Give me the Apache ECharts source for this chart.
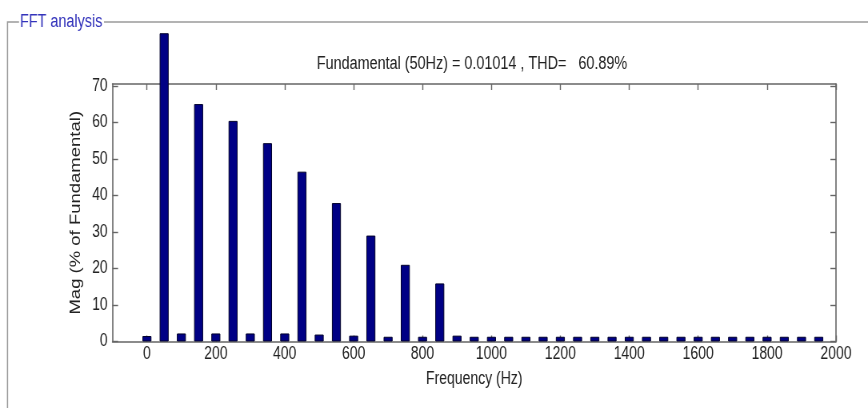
<!DOCTYPE html>
<html>
<head>
<meta charset="utf-8">
<title>FFT analysis</title>
<script src="https://cdn.jsdelivr.net/npm/echarts@6/dist/echarts.min.js"></script>
<style>
  html, body { margin: 0; padding: 0; background: #ffffff; overflow: hidden; }
  #stage { width: 868px; height: 408px; overflow: hidden; }
  /* the figure is laid out on a wider canvas and squeezed horizontally,
     which gives the narrow look of its lettering */
  #chart { width: 1085px; height: 408px; transform: scaleX(0.8); transform-origin: 0 0; }
</style>
</head>
<body>
<div id="stage"><div id="chart"></div></div>
<script>
// Harmonic spectrum, magnitudes in % of the 50 Hz fundamental
const frequencies = [
  0, 50, 100, 150, 200, 250, 300, 350, 400, 450,
  500, 550, 600, 650, 700, 750, 800, 850, 900, 950,
  1000, 1050, 1100, 1150, 1200, 1250, 1300, 1350, 1400, 1450,
  1500, 1550, 1600, 1650, 1700, 1750, 1800, 1850, 1900, 1950
];
const magnitudes = [
  1.5, 84.4, 2.2, 65.0, 2.2, 60.4, 2.2, 54.3, 2.2, 46.5,
  1.9, 37.9, 1.6, 29.0, 1.3, 21.0, 1.3, 15.9, 1.6, 1.3,
  1.3, 1.3, 1.3, 1.3, 1.3, 1.3, 1.3, 1.3, 1.3, 1.3,
  1.3, 1.3, 1.3, 1.3, 1.3, 1.3, 1.3, 1.3, 1.3, 1.3
];
const xTicks = [0, 200, 400, 600, 800, 1000, 1200, 1400, 1600, 1800, 2000];
const yTicks = [0, 10, 20, 30, 40, 50, 60, 70];

const panelTitle = 'FFT analysis';
const plotTitle = 'Fundamental (50Hz) = 0.01014 , THD=   60.89%';
const xName = 'Frequency (Hz)';
const yName = 'Mag (% of Fundamental)';

const FONT = '"Liberation Sans", Arial, Helvetica, sans-serif';
const AXIS_COLOR = '#666666';
const TEXT_COLOR = '#222222';
const W = 1085; // layout width before the horizontal squeeze

const chart = echarts.init(document.getElementById('chart'), null, { renderer: 'canvas' });

const plainNumber = v => String(v);

function boxAxis(extra) {
  return Object.assign({
    axisLine: { show: true, onZero: false, lineStyle: { color: AXIS_COLOR, width: 1.6 } },
    splitLine: { show: false }
  }, extra);
}

chart.setOption({
  animation: false,
  backgroundColor: '#ffffff',
  textStyle: { fontFamily: FONT },
  grid: { left: 140.6, right: 40, top: 84, bottom: 66.5, containLabel: false },
  xAxis: [
    boxAxis({
      type: 'value', position: 'bottom', min: -100, max: 2000,
      name: xName, nameLocation: 'middle', nameGap: 29,
      nameTextStyle: { fontFamily: FONT, fontSize: 17.5, color: TEXT_COLOR },
      axisTick: { show: true, inside: true, length: 6, customValues: xTicks,
                  lineStyle: { color: AXIS_COLOR, width: 1.4 } },
      axisLabel: { show: true, customValues: xTicks, margin: 4, formatter: plainNumber,
                   fontFamily: FONT, fontSize: 17.5, color: TEXT_COLOR }
    }),
    boxAxis({
      type: 'value', position: 'top', min: -100, max: 2000,
      axisTick: { show: true, inside: true, length: 6, customValues: xTicks,
                  lineStyle: { color: AXIS_COLOR, width: 1.4 } },
      axisLabel: { show: false }
    })
  ],
  yAxis: [
    boxAxis({
      type: 'value', position: 'left', min: 0, max: 70.5,
      name: yName, nameLocation: 'middle', nameGap: 32,
      nameTextStyle: { fontFamily: FONT, fontSize: 18.5, color: TEXT_COLOR },
      axisTick: { show: true, inside: true, length: 7, customValues: yTicks,
                  lineStyle: { color: AXIS_COLOR, width: 1.4 } },
      axisLabel: { show: true, customValues: yTicks, margin: 6, formatter: plainNumber,
                   fontFamily: FONT, fontSize: 17.5, color: TEXT_COLOR }
    }),
    boxAxis({
      type: 'value', position: 'right', min: 0, max: 70.5,
      axisTick: { show: true, inside: true, length: 7, customValues: yTicks,
                  lineStyle: { color: AXIS_COLOR, width: 1.4 } },
      axisLabel: { show: false }
    })
  ],
  series: [{
    type: 'bar',
    xAxisIndex: 0,
    yAxisIndex: 0,
    clip: false,
    barWidth: 11.25,
    itemStyle: { color: '#000085', borderColor: '#00002a', borderWidth: 1 },
    data: frequencies.map((f, i) => [f, magnitudes[i]])
  }],
  graphic: [
    // panel frame with its caption
    { type: 'polyline', silent: true,
      shape: { points: [[23.8, 22], [9.4, 22], [9.4, 408]] },
      style: { stroke: '#9a9a9a', lineWidth: 1.5, fill: null } },
    { type: 'line', silent: true,
      shape: { x1: 130, y1: 22, x2: W, y2: 22 },
      style: { stroke: '#9a9a9a', lineWidth: 1.5 } },
    { type: 'text', silent: true, x: 25, y: 22,
      style: { text: panelTitle, fill: '#3333bb', font: '18px ' + FONT,
               textAlign: 'left', textVerticalAlign: 'middle' } },
    // plot heading
    { type: 'text', silent: true, x: 590, y: 64,
      style: { text: plotTitle, fill: TEXT_COLOR, font: '18px ' + FONT,
               textAlign: 'center', textVerticalAlign: 'middle' } }
  ]
});
</script>
</body>
</html>
